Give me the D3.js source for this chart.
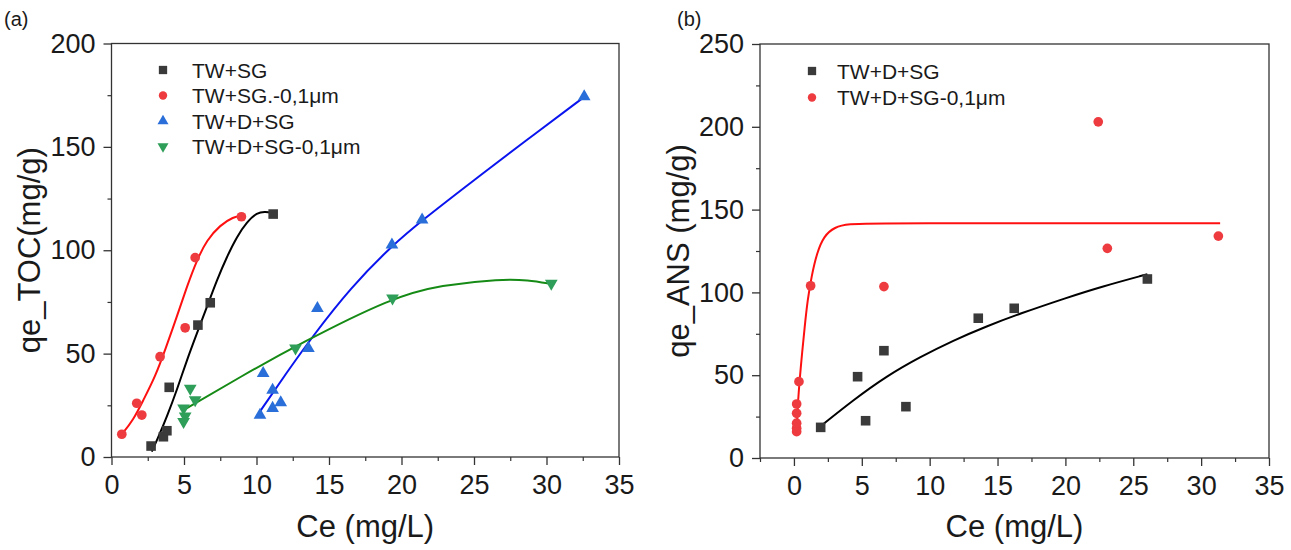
<!DOCTYPE html>
<html>
<head>
<meta charset="utf-8">
<script src="https://cdn.jsdelivr.net/npm/d3@7"></script>
<style>
  html, body { margin: 0; padding: 0; background: #ffffff; }
  svg { display: block; }
  text { font-family: "Liberation Sans", Arial, sans-serif; fill: #1a1a1a; }
</style>
</head>
<body>
<svg id="chart" width="1291" height="550"></svg>
<script>
// ---------- Panel (a): TOC adsorption ----------
const aTicksX = [0, 5, 10, 15, 20, 25, 30, 35];
const aTicksY = [0, 50, 100, 150, 200];

// TW+SG (squares)
const aTwSgCe = [2.73, 3.58, 3.82, 3.98, 5.96, 6.81, 11.15];
const aTwSgQe = [5.3, 9.8, 12.7, 33.7, 63.8, 74.6, 117.5];
const aTwSgFit = [[2.78, 2.6], [3.24, 9.8], [3.82, 19.5], [4.51, 32.4], [5.20, 46.9], [5.89, 59.8], [6.58, 72.6],
  [7.27, 85.6], [7.96, 96.9], [8.65, 106.6], [9.35, 113.8], [10.04, 118.2], [10.61, 118.7], [11.15, 117.9]];

// TW+SG.-0,1µm (circles)
const aTwSgFCe = [0.71, 1.74, 2.09, 3.35, 5.08, 5.77, 8.96];
const aTwSgFQe = [11.0, 26.0, 20.3, 48.5, 62.5, 96.4, 116.2];
const aTwSgFFit = [[0.71, 11.0], [1.51, 17.9], [2.20, 27.6], [3.01, 38.8], [3.70, 51.8], [4.51, 67.9], [5.20, 82.4],
  [5.89, 95.3], [6.58, 105.0], [7.50, 112.2], [8.42, 116.2], [8.96, 116.6]];

// TW+D+SG (up triangles)
const aTwDSgCe = [10.24, 10.46, 11.11, 11.11, 11.67, 13.58, 14.2, 19.34, 21.42, 32.6];
const aTwDSgQe = [20.3, 40.5, 32.4, 23.6, 26.3, 52.6, 71.9, 102.6, 114.7, 174.3];
const aTwDSgFit = [[10.15, 21.1], [12.0, 40.0], [13.85, 58.2], [16.5, 82.0], [19.38, 102.5], [21.45, 114.6],
  [25.02, 134.0], [28.48, 152.5], [32.63, 174.3]];

// TW+D+SG-0,1µm (down triangles)
const aTwDSgFCe = [5.43, 5.77, 4.97, 5.08, 4.97, 12.69, 19.38, 30.33];
const aTwDSgFQe = [33.2, 27.6, 23.6, 19.8, 17.1, 52.6, 76.8, 84.0];
const aTwDSgFFit = [[4.96, 22.7], [8.89, 38.8], [13.03, 55.0], [19.38, 77.3], [22.72, 83.2], [26.87, 86.1],
  [28.71, 85.6], [30.33, 83.7]];

// ---------- Panel (b): ANS adsorption ----------
const bTicksX = [0, 5, 10, 15, 20, 25, 30, 35];
const bTicksY = [0, 50, 100, 150, 200, 250];

// TW+D+SG (squares)
const bTwDSgCe = [1.97, 4.69, 5.28, 6.63, 8.25, 13.58, 16.23, 26.04];
const bTwDSgQe = [18.5, 49.1, 22.5, 64.8, 31.0, 84.4, 90.4, 108.1];
const bTwDSgFit = [[1.92, 18.9], [4.37, 35.0], [6.83, 49.5], [9.29, 61.0], [11.74, 71.0], [14.2, 79.6],
  [16.65, 87.2], [20.1, 96.8], [22.55, 103.2], [26.04, 111.0]];

// TW+D+SG-0,1µm (circles)
const bTwDSgFCe = [0.2, 0.2, 0.2, 0.2, 0.2, 0.37, 1.23, 6.63, 22.42, 23.09, 31.27];
const bTwDSgFQe = [15.9, 18.0, 21.0, 27.0, 32.6, 46.1, 104.0, 103.5, 203.0, 126.6, 134.0];
const bTwDSgFFit = [[0.2, 17.0], [0.3, 35.0], [0.5, 55.0], [0.8, 80.0], [1.0, 95.0], [1.3, 110.0], [1.7, 124.0],
  [2.2, 134.0], [3.0, 139.5], [4.0, 141.3], [6.0, 141.8], [31.4, 141.8]];

const svg = d3.select("#chart");

const markerStyles = {
  square:   { type: d3.symbolSquare,   size: 92, rotate: 0,   fill: "#3a3a3a" },
  circle:   { type: d3.symbolCircle,   size: 74, rotate: 0,   fill: "#ee3b3f" },
  triUp:    { type: d3.symbolTriangle, size: 70, rotate: 0,   fill: "#2a6fd9" },
  triDown:  { type: d3.symbolTriangle, size: 70, rotate: 180, fill: "#2e9e58" }
};

const FONT = "'Liberation Sans', Arial, sans-serif";

function zip(a, b) { return a.map((v, i) => [v, b[i]]); }

function drawPanel(cfg) {
  const g = svg.append("g");
  const x = d3.scaleLinear().domain(cfg.xDomain).range([cfg.left, cfg.right]);
  const y = d3.scaleLinear().domain(cfg.yDomain).range([cfg.bottom, cfg.top]);

  // frame
  g.append("rect")
    .attr("x", cfg.left).attr("y", cfg.top)
    .attr("width", cfg.right - cfg.left).attr("height", cfg.bottom - cfg.top)
    .attr("fill", "none").attr("stroke", "#333").attr("stroke-width", 1.3);

  // minor ticks
  const xMinor = d3.range(cfg.xDomain[0], cfg.xDomain[1] + 0.001, 2.5).filter(v => !cfg.xTicks.includes(v));
  const yMinor = d3.range(cfg.yDomain[0], cfg.yDomain[1] + 0.001, 25).filter(v => !cfg.yTicks.includes(v));
  g.append("g").attr("transform", `translate(0,${cfg.bottom})`)
    .call(d3.axisBottom(x).tickValues(xMinor).tickSize(4).tickFormat(""))
    .call(s => s.select(".domain").remove())
    .call(s => s.selectAll("line").attr("stroke", "#333").attr("stroke-width", 1.2));
  g.append("g").attr("transform", `translate(${cfg.left},0)`)
    .call(d3.axisLeft(y).tickValues(yMinor).tickSize(4).tickFormat(""))
    .call(s => s.select(".domain").remove())
    .call(s => s.selectAll("line").attr("stroke", "#333").attr("stroke-width", 1.2));

  // major ticks with labels
  g.append("g").attr("transform", `translate(0,${cfg.bottom})`)
    .call(d3.axisBottom(x).tickValues(cfg.xTicks).tickSize(8).tickPadding(10).tickFormat(d3.format("d")))
    .call(s => s.select(".domain").remove())
    .call(s => s.selectAll("line").attr("stroke", "#333").attr("stroke-width", 1.3))
    .call(s => s.selectAll("text").attr("font-size", 27).attr("fill", "#1a1a1a").attr("font-family", FONT));
  g.append("g").attr("transform", `translate(${cfg.left},0)`)
    .call(d3.axisLeft(y).tickValues(cfg.yTicks).tickSize(8).tickPadding(8).tickFormat(d3.format("d")))
    .call(s => s.select(".domain").remove())
    .call(s => s.selectAll("line").attr("stroke", "#333").attr("stroke-width", 1.3))
    .call(s => s.selectAll("text").attr("font-size", 27).attr("fill", "#1a1a1a").attr("font-family", FONT));

  // axis titles
  g.append("text")
    .attr("x", (cfg.left + cfg.right) / 2).attr("y", cfg.xTitleY)
    .attr("text-anchor", "middle").attr("font-size", 31)
    .text(cfg.xTitle);
  g.append("text")
    .attr("transform", `translate(${cfg.yTitleX},${(cfg.top + cfg.bottom) / 2}) rotate(-90)`)
    .attr("text-anchor", "middle").attr("font-size", 31)
    .text(cfg.yTitle);

  // panel letter
  g.append("text").attr("x", cfg.letterX).attr("y", 26).attr("font-size", 20).text(cfg.letter);

  // fit curves
  const line = d3.line().x(d => x(d[0])).y(d => y(d[1])).curve(d3.curveBasis);
  cfg.series.forEach(s => {
    g.append("path").datum(s.fit).attr("d", line)
      .attr("fill", "none").attr("stroke", s.lineColor).attr("stroke-width", 2);
  });

  // markers
  cfg.series.forEach(s => {
    const m = markerStyles[s.marker];
    const sym = d3.symbol().type(m.type).size(m.size);
    g.append("g").selectAll("path").data(s.points).join("path")
      .attr("d", sym)
      .attr("transform", d => `translate(${x(d[0])},${y(d[1])}) rotate(${m.rotate})`)
      .attr("fill", m.fill);
  });

  // legend
  const lg = g.append("g");
  cfg.series.forEach((s, i) => {
    const m = markerStyles[s.marker];
    const yy = cfg.legendY + i * cfg.legendStep;
    lg.append("path")
      .attr("d", d3.symbol().type(m.type).size(m.size * 0.75)())
      .attr("transform", `translate(${cfg.legendX},${yy}) rotate(${m.rotate})`)
      .attr("fill", m.fill);
    lg.append("text").attr("x", cfg.legendX + cfg.legendGap).attr("y", yy).attr("dy", "0.36em")
      .attr("font-size", 21).text(s.name);
  });
}

drawPanel({
  letter: "(a)", letterX: 4,
  left: 111.5, right: 619, top: 43.5, bottom: 457,
  xDomain: [0, 35], yDomain: [0, 200],
  xTicks: aTicksX, yTicks: aTicksY,
  xTitle: "Ce (mg/L)", xTitleY: 537,
  yTitle: "qe_TOC(mg/g)", yTitleX: 40,
  legendX: 163, legendY: 70, legendStep: 25.5, legendGap: 29,
  series: [
    { name: "TW+SG", marker: "square", lineColor: "#000000", points: zip(aTwSgCe, aTwSgQe), fit: aTwSgFit },
    { name: "TW+SG.-0,1μm", marker: "circle", lineColor: "#ff1010", points: zip(aTwSgFCe, aTwSgFQe), fit: aTwSgFFit },
    { name: "TW+D+SG", marker: "triUp", lineColor: "#0a14ee", points: zip(aTwDSgCe, aTwDSgQe), fit: aTwDSgFit },
    { name: "TW+D+SG-0,1μm", marker: "triDown", lineColor: "#158a15", points: zip(aTwDSgFCe, aTwDSgFQe), fit: aTwDSgFFit }
  ]
});

drawPanel({
  letter: "(b)", letterX: 677,
  left: 760, right: 1269, top: 44, bottom: 458,
  xDomain: [-2.5, 35], yDomain: [0, 250],
  xTicks: bTicksX, yTicks: bTicksY,
  xTitle: "Ce (mg/L)", xTitleY: 537,
  yTitle: "qe_ANS (mg/g)", yTitleX: 689,
  legendX: 812, legendY: 71, legendStep: 26.5, legendGap: 25,
  series: [
    { name: "TW+D+SG", marker: "square", lineColor: "#000000", points: zip(bTwDSgCe, bTwDSgQe), fit: bTwDSgFit },
    { name: "TW+D+SG-0,1μm", marker: "circle", lineColor: "#ff1010", points: zip(bTwDSgFCe, bTwDSgFQe), fit: bTwDSgFFit }
  ]
});
</script>
</body>
</html>
